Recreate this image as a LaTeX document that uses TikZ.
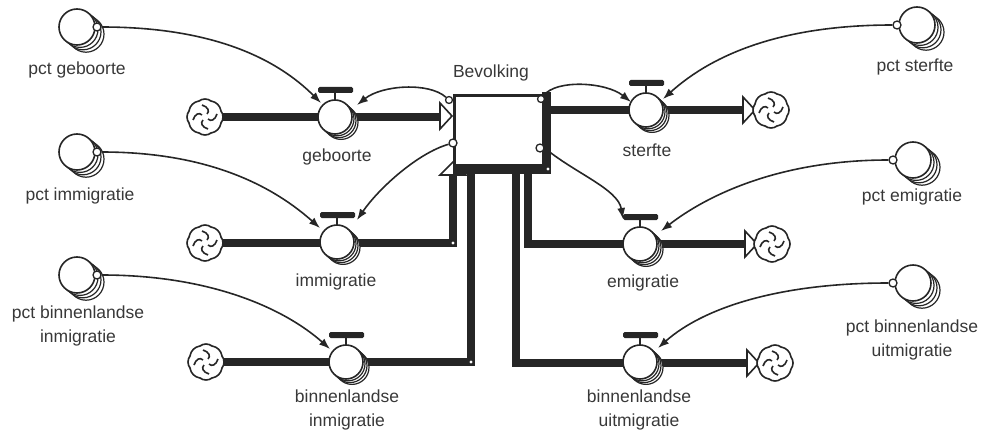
\documentclass[tikz,border=0pt]{standalone}
\usepackage{fontspec}
\setmainfont{Liberation Sans}
\usetikzlibrary{arrows.meta,calc}
\definecolor{ink}{HTML}{262626}
\definecolor{txt}{HTML}{383838}

\tikzset{
  pipe/.style={line width=7.5pt, draw=ink, line join=miter},
  link/.style={line width=1.6pt, draw=ink, -{Latex[length=11pt,width=8pt]}},
  lbl/.style={font=\fontsize{17.5}{24}\selectfont, text=txt, align=center, inner sep=0pt},
  valvecirc/.style={circle, draw=ink, fill=white, line width=1.6pt, minimum size=34pt, inner sep=0pt},
  convcirc/.style={circle, draw=ink, fill=white, line width=1.6pt, minimum size=36pt, inner sep=0pt},
  stockbox/.style={draw=ink, fill=white, line width=3pt, minimum width=90pt, minimum height=71pt, inner sep=0pt},
  flowtip/.style={draw=ink, fill=white, line width=1.6pt, line join=miter},
  cloudline/.style={draw=ink, line width=1.6pt},
  handle/.style={circle, draw=ink, fill=white, line width=1.3pt, minimum size=8pt, inner sep=0pt},
  stackline/.style={draw=ink, fill=white, line width=1.2pt},
}

% stacked outlines behind a circle: x, y, radius, dx, dy
\newcommand\stackcircles[5]{%
  \foreach \k in {3,2,1}{\draw[stackline] (#1+#4*\k,#2+#5*\k) circle (#3pt);}
}
% flow regulator: name, x, y
\newcommand\flowvalve[3]{%
  \stackcircles{#2}{#3}{17}{2}{1.8}
  \node[valvecirc] (#1) at (#2,#3) {};
  \draw[ink, line width=1.6pt] (#2,#3-17) -- (#2,#3-24);
  \fill[ink, rounded corners=1.5pt] (#2-17,#3-30) rectangle (#2+18,#3-24);
}
% auxiliary variable: name, x, y, side of the link handle (+1 / -1)
\newcommand\auxconv[4]{%
  \stackcircles{#2}{#3}{18}{3}{2.4}
  \node[convcirc] (#1) at (#2,#3) {};
  \node[handle] (#1h) at (#2+#4*20,#3) {};
}
% source / sink cloud: name, x, y
\newcommand\cloudsrc[3]{%
  \node[circle, minimum size=32pt, inner sep=0pt] (#1) at (#2,#3) {};
  \begin{scope}[shift={(#2,#3)}]
    \draw[cloudline, fill=white]
      (-16,-6) to[bend left=35] (-6,-16) to[bend left=35] (6,-16) to[bend left=35] (16,-6)
      to[bend left=35] (16,6) to[bend left=35] (6,16) to[bend left=35] (-6,16)
      to[bend left=35] (-16,6) to[bend left=35] cycle;
    \foreach \a in {0,90,180,270}{
      \draw[cloudline, rotate=\a] (-3,-12) .. controls (3,-10) and (5,-6) .. (2,-3);}
  \end{scope}
}

\begin{document}
\begin{tikzpicture}[x=1pt,y=-1pt]
\useasboundingbox (0,0) rectangle (984,433);

% pipe ends and bends
\coordinate (aGeb) at (440,117);
\coordinate (kImm) at (453,243);
\coordinate (eImm) at (453,175);
\coordinate (kBin) at (471,362);
\coordinate (eBin) at (471,168);
\coordinate (sSter) at (548,110);
\coordinate (aSter) at (743,110);
\coordinate (sEmi) at (528,168);
\coordinate (kEmi) at (528,244);
\coordinate (aEmi) at (745,244);
\coordinate (sBut) at (516,168);
\coordinate (kBut) at (516,363);
\coordinate (aBut) at (747,363);

\coordinate (cGebP) at (205,117);
\coordinate (cImmP) at (205,243);
\coordinate (cBinP) at (206,362);
\coordinate (cSterP) at (771,110);
\coordinate (cEmiP) at (772,244);
\coordinate (cButP) at (775,363);

% material flows
\draw[pipe] (cGebP) -- (aGeb);
\draw[pipe] (cImmP) -- (kImm) -- (eImm);
\draw[pipe] (cBinP) -- (kBin) -- (eBin);
\draw[pipe] (sSter) -- (aSter);
\draw[pipe] (sEmi) -- (kEmi) -- (aEmi);
\draw[pipe] (sBut) -- (kBut) -- (aBut);

% flow direction heads
\draw[flowtip] (440,103) -- (452,116) -- (440,129) -- cycle;
\draw[flowtip] (440,175) -- (453,162) -- (466,175) -- cycle;
\draw[flowtip] (743,97) -- (755,110) -- (743,123) -- cycle;
\draw[flowtip] (745,231) -- (757,244) -- (745,257) -- cycle;
\draw[flowtip] (747,350) -- (759,363) -- (747,376) -- cycle;

% stock
\node[stockbox] (bev) at (499,131) {};
\fill[ink] ([xshift=-4pt,yshift=1.5pt]bev.north east) rectangle ([xshift=5pt,yshift=-6pt]bev.south east);
\fill[ink] ([yshift=4pt]bev.south west) rectangle ([xshift=5pt,yshift=-6pt]bev.south east);
\node[lbl] (bevL) at (491,73) {Bevolking};

% link handles on the stock
\node[handle, minimum size=7pt] (hA) at (449,100) {};
\node[handle, minimum size=8pt] (hB) at (453,143) {};
\node[handle, minimum size=7pt] (hC) at (541,99) {};
\node[handle, minimum size=8pt] (hD) at (540,148) {};

% bend dots
\fill[white] (kImm) circle (1.6pt);
\fill[white] (kBin) circle (1.6pt);
\fill[white] (548,169) circle (1.6pt);

% clouds
\cloudsrc{cGeb}{205}{117}
\cloudsrc{cImm}{205}{243}
\cloudsrc{cBin}{206}{362}
\cloudsrc{cSter}{771}{110}
\cloudsrc{cEmi}{772}{244}
\cloudsrc{cBut}{775}{363}

% flow regulators
\flowvalve{vGeb}{335}{117}
\flowvalve{vImm}{337}{242}
\flowvalve{vBin}{346}{362}
\flowvalve{vSter}{646}{110}
\flowvalve{vEmi}{640}{244}
\flowvalve{vBut}{640}{362}

% auxiliaries
\auxconv{pGeb}{77}{27}{1}
\auxconv{pImm}{77}{152}{1}
\auxconv{pBin}{77}{275}{1}
\auxconv{pSter}{917}{25}{-1}
\auxconv{pEmi}{913}{160}{-1}
\auxconv{pBut}{913}{283}{-1}

% information links
\draw[link] (pGebh.east) .. controls +(110,0) and +(-45,-45) .. ($(vGeb)+(-14,-14)$);
\draw[link] (hA) .. controls +(-20,-18) and +(25,-20) .. ($(vGeb)+(22,-12)$);
\draw[link] (pImmh.east) .. controls +(110,0) and +(-45,-40) .. ($(vImm)+(-17,-14)$);
\draw[link] (hB) .. controls +(-35,10) and +(22,-32) .. ($(vImm)+(20,-22)$);
\draw[link] (pBinh.east) .. controls +(110,0) and +(-45,-40) .. ($(vBin)+(-16,-13)$);
\draw[link] (hC) .. controls +(15,-20) and +(-25,-20) .. ($(vSter)+(-15,-8)$);
\draw[link] (pSterh.west) .. controls +(-110,0) and +(50,-45) .. ($(vSter)+(17,-11)$);
\draw[link] (hD.east) .. controls +(30,25) and +(-5,-30) .. ($(vEmi)+(-17,-25)$);
\draw[link] (pEmih.west) .. controls +(-110,0) and +(45,-35) .. ($(vEmi)+(21,-13)$);
\draw[link] (pButh.west) .. controls +(-110,0) and +(45,-40) .. ($(vBut)+(18,-14)$);

% labels
\node[lbl] (lpGeb) at (77,70) {pct geboorte};
\node[lbl] (lpImm) at (80,196) {pct immigratie};
\node[lbl] (lpBin) at (78,326) {pct binnenlandse\\inmigratie};
\node[lbl] (lpSter) at (915,67) {pct sterfte};
\node[lbl] (lpEmi) at (912,197) {pct emigratie};
\node[lbl] (lpBut) at (912,340) {pct binnenlandse\\uitmigratie};
\node[lbl] (lvGeb) at (337,157) {geboorte};
\node[lbl] (lvSter) at (647,150) {sterfte};
\node[lbl] (lvImm) at (336,282) {immigratie};
\node[lbl] (lvEmi) at (643,283) {emigratie};
\node[lbl] (lvBin) at (347,410) {binnenlandse\\inmigratie};
\node[lbl] (lvBut) at (639,410) {binnenlandse\\uitmigratie};
\end{tikzpicture}
\end{document}
